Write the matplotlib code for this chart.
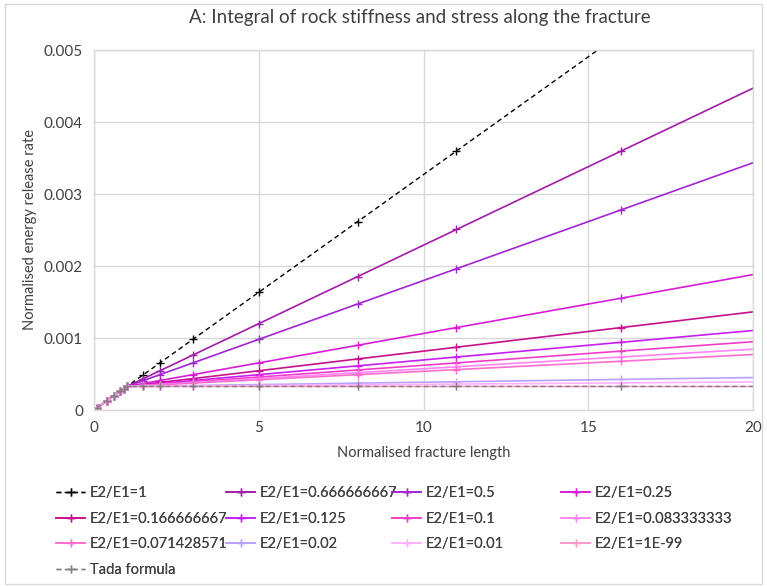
import matplotlib
matplotlib.use("Agg")
import matplotlib.pyplot as plt
from matplotlib.patches import Rectangle

plt.rcParams['font.family'] = ['Lato', 'DejaVu Sans']

x = [0.1, 0.4, 0.6, 0.8, 0.9, 1.0, 1.5, 2, 3, 5, 8, 11, 16, 20]
head = [0.0000327, 0.000131, 0.000196, 0.000262, 0.000294, 0.000327]

r_1 = head + [0.000491, 0.000654, 0.000981, 0.001635, 0.002616, 0.003597, 0.005232, 0.006540]
r_0667 = head + [0.000436, 0.000545, 0.000763, 0.001199, 0.001853, 0.002507, 0.003597, 0.004469]
r_05 = head + [0.000409, 0.000491, 0.000654, 0.000981, 0.001472, 0.001962, 0.002780, 0.003434]
r_025 = head + [0.000368, 0.000409, 0.000491, 0.000654, 0.000899, 0.001145, 0.001553, 0.001880]
r_0167 = head + [0.000354, 0.000382, 0.000436, 0.000545, 0.000709, 0.000872, 0.001145, 0.001363]
r_0125 = head + [0.000347, 0.000368, 0.000409, 0.000491, 0.000613, 0.000736, 0.000940, 0.001104]
r_01 = head + [0.000343, 0.000360, 0.000392, 0.000458, 0.000556, 0.000654, 0.000818, 0.000948]
r_0083 = head + [0.000341, 0.000354, 0.000382, 0.000436, 0.000518, 0.000600, 0.000736, 0.000845]
r_0071 = head + [0.000339, 0.000350, 0.000374, 0.000420, 0.000491, 0.000561, 0.000677, 0.000771]
r_002 = head + [0.000330, 0.000334, 0.000340, 0.000353, 0.000373, 0.000392, 0.000425, 0.000451]
r_001 = head + [0.000329, 0.000330, 0.000334, 0.000340, 0.000350, 0.000360, 0.000376, 0.000389]
r_1e99 = head + [0.000327] * 8
tada = head + [0.000327] * 8

labels = ["E2/E1=1", "E2/E1=0.666666667", "E2/E1=0.5", "E2/E1=0.25",
          "E2/E1=0.166666667", "E2/E1=0.125", "E2/E1=0.1", "E2/E1=0.083333333",
          "E2/E1=0.071428571", "E2/E1=0.02", "E2/E1=0.01", "E2/E1=1E-99",
          "Tada formula"]
series = [r_1, r_0667, r_05, r_025, r_0167, r_0125, r_01, r_0083, r_0071,
          r_002, r_001, r_1e99, tada]
colors = ["#000000", "#A21CA8", "#A224D2", "#D81CD8",
          "#C8108E", "#C81EF5", "#F23CC8", "#FF85F5",
          "#FF6ECF", "#B9A0FF", "#FFB0FF", "#FF99C8", "#7F7F7F"]
styles = ["--"] + ["-"] * 11 + ["--"]

fig = plt.figure(figsize=(7.67, 5.87), dpi=100)
ax = fig.add_axes([94/767, 1 - 410/587, (753 - 94)/767, (410 - 50)/587])

handles = []
for ys, c, ls, lab in zip(series, colors, styles, labels):
    if ls == "--":
        kw = dict(dashes=(3.5, 2.5), lw=1.0)
    else:
        kw = dict(lw=1.2)
    h, = ax.plot(x, ys, color=c, marker='+', ms=6, mew=1.0,
                 markevery=slice(0, len(x) - 1), label=lab, **kw)
    handles.append(h)

ax.set_xlim(0, 20)
ax.set_ylim(0, 0.005)
ax.set_xticks([0, 5, 10, 15, 20])
ax.set_xticklabels(["0", "5", "10", "15", "20"])
ax.set_yticks([0, 0.001, 0.002, 0.003, 0.004, 0.005])
ax.set_yticklabels(["0", "0.001", "0.002", "0.003", "0.004", "0.005"])
ax.tick_params(length=0, labelsize=11, colors="#404040", pad=8)
ax.grid(True, color="#D9D9D9", lw=1.0)
ax.set_axisbelow(True)
for s in ax.spines.values():
    s.set_color("#D9D9D9")
    s.set_linewidth(1.0)

ax.set_xlabel("Normalised fracture length", fontsize=10.5, color="#404040", labelpad=8)
ax.set_ylabel("Normalised energy release rate", fontsize=10.5, color="#404040", labelpad=5)
fig.text(0.5 * (94 + 753) / 767 - 0.005, 1 - 18/587, "A: Integral of rock stiffness and stress along the fracture",
         ha='center', va='center', fontsize=13.5, color="#404040")

# legend in 4 columns (row-major order as in reference)
col_x = [56, 226, 392, 561]
for ci in range(4):
    idx = [i for i in range(ci, len(handles), 4)]
    leg = fig.legend([handles[i] for i in idx], [labels[i] for i in idx],
                     loc='upper left',
                     bbox_to_anchor=(col_x[ci] / 767, 1 - 486/587),
                     frameon=False, fontsize=10.5, handlelength=2.0,
                     handletextpad=0.3, labelspacing=0.8, borderaxespad=0,
                     borderpad=0, labelcolor="#404040")
    fig.add_artist(leg)

fig.patches.append(Rectangle((5/767, 3/587), 757/767, 580/587, transform=fig.transFigure,
                             fill=False, edgecolor="#D9D9D9", lw=1.0))

fig.savefig("out.png", dpi=100)
